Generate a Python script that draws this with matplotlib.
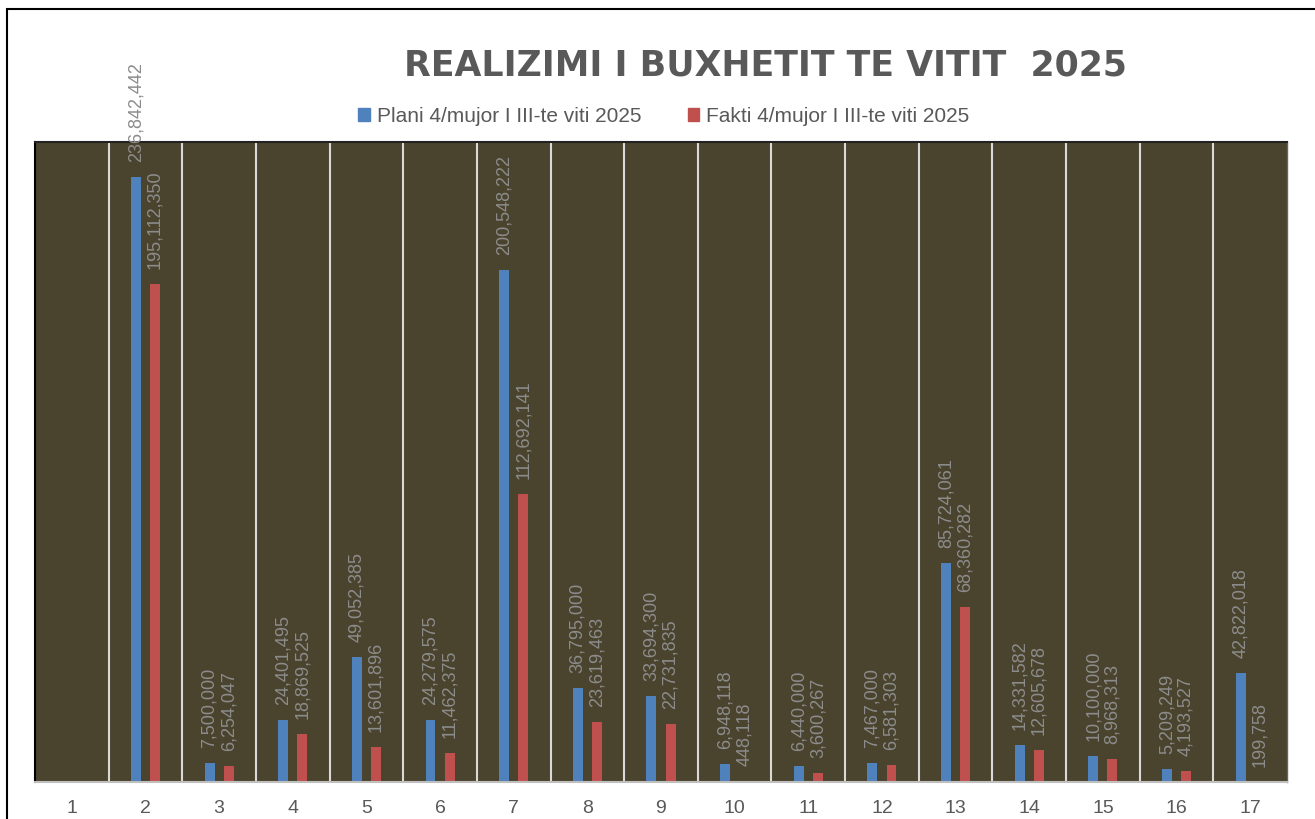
import matplotlib.pyplot as plt
from matplotlib.patches import Rectangle, Patch
import numpy as np

categories = [str(i) for i in range(1, 18)]
plani = [np.nan, 236842442, 7500000, 24401495, 49052385, 24279575, 200548222,
         36795000, 33694300, 6948118, 6440000, 7467000, 85724061, 14331582,
         10100000, 5209249, 42822018]
fakti = [np.nan, 195112350, 6254047, 18869525, 13601896, 11462375, 112692141,
         23619463, 22731835, 448118, 3600267, 6581303, 68360282, 12605678,
         8968313, 4193527, 199758]

title = "REALIZIMI I BUXHETIT TE VITIT  2025"
label_plani = "Plani 4/mujor I III-te viti 2025"
label_fakti = "Fakti 4/mujor I III-te viti 2025"

blue = "#4f81bd"
red = "#c0504d"
bg = "#4a432d"

W, H = 1315, 820
fig = plt.figure(figsize=(W / 100, H / 100), dpi=100)
fig.patch.set_facecolor("white")

# outer frame (cut off at right/bottom like the screenshot)
fig.patches.append(Rectangle((7 / W, -0.1), 1.2, (H - 10) / H + 0.1,
                             transform=fig.transFigure, fill=False,
                             edgecolor="black", lw=1.5))

ax = fig.add_axes([35 / W, (H - 783) / H, (1287 - 35) / W, (783 - 143) / H])
ax.set_facecolor(bg)

x = np.arange(len(categories))
off = 0.13
w = 0.135
ax.bar(x - off, plani, w, color=blue)
ax.bar(x + off, fakti, w, color=red)

for xs, vals in ((x - off, plani), (x + off, fakti)):
    for xi, v in zip(xs, vals):
        if np.isnan(v):
            continue
        ax.annotate(f"{v:,.0f}", (xi, v), xytext=(0, 11.5),
                    textcoords="offset points", rotation=90,
                    ha="center", va="bottom", color="#8c8c8c",
                    fontsize=13, family="Liberation Sans")

for b in np.arange(0.5, len(categories) - 1, 1.0):
    ax.axvline(b, color="#d9d9d9", lw=1.5, zorder=0.5)

ax.set_xlim(-0.5, len(categories) - 0.5)
ax.set_ylim(0, 250_500_000)
ax.set_yticks([])
ax.set_xticks(x)
ax.set_xticklabels(categories, family="Liberation Sans", fontsize=14,
                   color="#595959")
ax.tick_params(axis="x", length=0, pad=12)

ax.spines["left"].set_color("black")
ax.spines["left"].set_linewidth(1.5)
ax.spines["top"].set_color("#222222")
ax.spines["top"].set_linewidth(1.5)
ax.spines["right"].set_color("#666666")
ax.spines["right"].set_linewidth(1)
ax.spines["bottom"].set_color("#bfbfbf")
ax.spines["bottom"].set_linewidth(1.5)

fig.text(765 / W, 1 - 65 / H, title, ha="center", va="center",
         fontsize=25, fontweight="bold", color="#595959",
         family="DejaVu Sans")

handles = [Patch(color=blue), Patch(color=red)]
fig.legend(handles, [label_plani, label_fakti], loc="center",
           bbox_to_anchor=(664 / W, 1 - 117 / H), ncol=2, frameon=False,
           prop={"family": "Liberation Sans", "size": 15},
           labelcolor="#595959", handlelength=0.55, handleheight=0.6,
           handletextpad=0.35, columnspacing=2.2)

fig.savefig("out.png", dpi=100, facecolor="white")
